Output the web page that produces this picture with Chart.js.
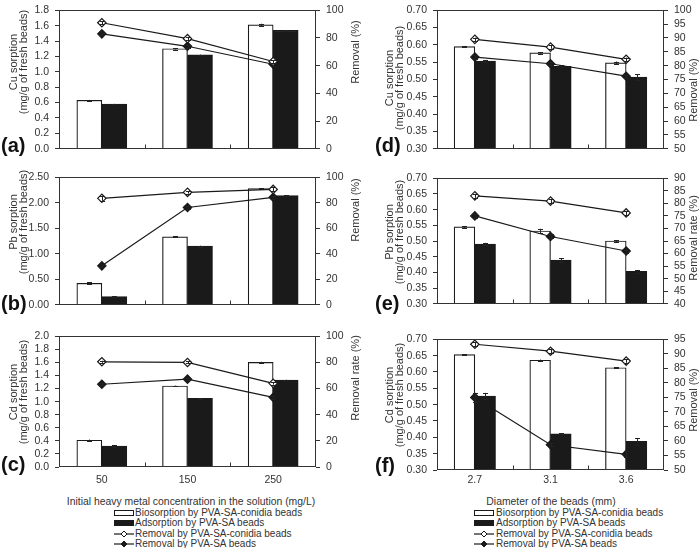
<!DOCTYPE html>
<html><head><meta charset="utf-8">
<script src="https://cdn.jsdelivr.net/npm/chart.js@4"></script>
<style>
body{margin:0;background:#fff;}
#wrap{position:relative;width:700px;height:548px;overflow:hidden;font-family:'Liberation Sans',Arial,sans-serif;color:#333;}
canvas{position:absolute;}
.t{position:absolute;white-space:nowrap;}
.rot{transform:translate(-50%,-50%) rotate(-90deg);text-align:center;font-size:11px;line-height:10px;}
.letter{font-weight:bold;font-size:20px;line-height:20px;color:#111;}
.xt{font-size:10.4px;line-height:10px;transform:translateX(-50%);}
.leg{font-size:10px;line-height:10px;}
.leg svg{position:absolute;left:0;top:0;}
.leg span{position:absolute;top:0;}
</style></head><body><div id="wrap"></div>
<script>
// ---- categories ----
const concCategories = ['50', '150', '250'];
const diamCategories = ['2.7', '3.1', '3.6'];

// ---- axis ranges [min, max, step] ----
const cuConcAxis = [0, 1.8, 0.2];
const pbConcAxis = [0, 2.5, 0.5];
const cdConcAxis = [0, 2.0, 0.2];
const removalConcAxis = [0, 100, 20];
const sorptionDiamAxis = [0.30, 0.70, 0.05];
const removalCuDiamAxis = [50, 100, 5];
const removalPbDiamAxis = [40, 90, 5];
const removalCdDiamAxis = [50, 95, 5];

// ---- (a) Cu vs concentration ----
const cuConcBio = [0.63, 1.30, 1.61];
const cuConcAds = [0.58, 1.22, 1.54];
const cuConcRemBio = [91, 79.5, 63];
const cuConcRemAds = [83, 74, 61];
const cuConcBioErr = [0.005, 0.01, 0.015];
const cuConcAdsErr = [0.003, 0.004, 0.004];
const cuConcRemBioErr = [1, 1.2, 1];
const cuConcRemAdsErr = [0.8, 1, 1];

// ---- (b) Pb vs concentration ----
const pbConcBio = [0.42, 1.33, 2.28];
const pbConcAds = [0.16, 1.15, 2.14];
const pbConcRemBio = [83.5, 88.2, 90.5];
const pbConcRemAds = [30.5, 76.3, 84.3];
const pbConcBioErr = [0.02, 0.01, 0.01];
const pbConcAdsErr = [0.005, 0.008, 0.005];
const pbConcRemBioErr = [2, 1, 1.5];
const pbConcRemAdsErr = [1, 1.2, 1];

// ---- (c) Cd vs concentration ----
const cdConcBio = [0.41, 1.24, 1.60];
const cdConcAds = [0.32, 1.05, 1.33];
const cdConcRemBio = [80.5, 80, 64];
const cdConcRemAds = [63.3, 67.2, 53.3];
const cdConcBioErr = [0.01, 0.005, 0.01];
const cdConcAdsErr = [0.01, 0.005, 0.005];
const cdConcRemBioErr = [0.8, 0.8, 1];
const cdConcRemAdsErr = [0.8, 0.8, 1];

// ---- (d) Cu vs diameter ----
const cuDiamBio = [0.595, 0.577, 0.548];
const cuDiamAds = [0.553, 0.538, 0.507];
const cuDiamRemBio = [89.5, 86.7, 82.3];
const cuDiamRemAds = [83.1, 80.7, 76.2];
const cuDiamBioErr = [0.002, 0.002, 0.004];
const cuDiamAdsErr = [0.002, 0.003, 0.008];
const cuDiamRemBioErr = [0.6, 0.6, 0.6];
const cuDiamRemAdsErr = [0.6, 0.6, 0.6];

// ---- (e) Pb vs diameter ----
const pbDiamBio = [0.545, 0.532, 0.500];
const pbDiamAds = [0.490, 0.439, 0.403];
const pbDiamRemBio = [83, 80.9, 76.2];
const pbDiamRemAds = [75, 66.8, 61];
const pbDiamBioErr = [0.003, 0.007, 0.003];
const pbDiamAdsErr = [0.004, 0.006, 0.004];
const pbDiamRemBioErr = [0.8, 0.8, 0.8];
const pbDiamRemAdsErr = [0.8, 0.8, 0.6];

// ---- (f) Cd vs diameter ----
const cdDiamBio = [0.653, 0.636, 0.613];
const cdDiamAds = [0.526, 0.411, 0.388];
const cdDiamRemBio = [93.3, 90.9, 87.5];
const cdDiamRemAds = [75, 58.7, 55.4];
const cdDiamBioErr = [0.001, 0.002, 0.002];
const cdDiamAdsErr = [0.01, 0.002, 0.01];
const cdDiamRemBioErr = [0.6, 0.6, 0.6];
const cdDiamRemAdsErr = [1.5, 0.5, 1];

// ---- text ----
const seriesNames = ['Biosorption by PVA-SA-conidia beads', 'Adsorption by PVA-SA beads', 'Removal by PVA-SA-conidia beads', 'Removal by PVA-SA beads'];
const xTitleConc = 'Initial heavy metal concentration in the solution (mg/L)';
const xTitleDiam = 'Diameter of the beads (mm)';

Chart.defaults.font.family = "'Liberation Sans', Arial, sans-serif";
Chart.defaults.font.size = 10.5;
Chart.defaults.color = '#333';

const wrap = document.getElementById('wrap');
const INK = '#1a1a1a';

const framePlugin = {
  id: 'frame',
  afterDraw(chart) {
    const {ctx, chartArea: a} = chart;
    ctx.save();
    ctx.strokeStyle = '#333';
    ctx.lineWidth = 1;
    const l = Math.round(a.left) + 0.5, r = Math.round(a.right) - 0.5;
    const t = Math.round(a.top) + 0.5, b = Math.round(a.bottom) - 0.5;
    ctx.strokeRect(l, t, r - l, b - t);
    const n = chart.data.labels.length;
    ctx.beginPath();
    for (let i = 1; i < n; i++) {
      const x = Math.round(a.left + i * (a.right - a.left) / n) + 0.5;
      ctx.moveTo(x, b); ctx.lineTo(x, b - 4);
    }
    ctx.stroke();
    ctx.restore();
  }
};

const errorPlugin = {
  id: 'errbars',
  afterDatasetDraw(chart, args) {
    const ds = chart.data.datasets[args.index];
    if (!ds.errors) return;
    const scale = chart.scales[ds.yAxisID];
    const ctx = chart.ctx;
    ctx.save();
    ctx.strokeStyle = ds.errColor || '#222';
    ctx.lineWidth = 1;
    ctx.beginPath();
    args.meta.data.forEach((el, j) => {
      const v = ds.data[j], e = ds.errors[j];
      const x = Math.round(el.x) + 0.5;
      const y1 = scale.getPixelForValue(v + e), y2 = scale.getPixelForValue(v - e);
      ctx.moveTo(x, y1); ctx.lineTo(x, y2);
      ctx.moveTo(x - 2.5, Math.round(y1) + 0.5); ctx.lineTo(x + 2.5, Math.round(y1) + 0.5);
      ctx.moveTo(x - 2.5, Math.round(y2) + 0.5); ctx.lineTo(x + 2.5, Math.round(y2) + 0.5);
    });
    ctx.stroke();
    ctx.restore();
  }
};

function panel(p) {
  const col = p.col === 0 ? {left: 0, width: 352, yw: 59, y1w: 36, bw: 25}
                          : {left: 365, width: 335, yw: 72, y1w: 36, bw: 20.7};
  const showLabels = !!p.labels;
  const padTop = 8, xh = showLabels ? 24 : 12;
  const cv = document.createElement('canvas');
  cv.width = col.width;
  cv.height = padTop + (p.bottom - p.top) + xh;
  cv.style.left = col.left + 'px';
  cv.style.top = (p.top - padTop) + 'px';
  wrap.appendChild(cv);
  const lineDs = (data, fill, errs) => ({
    type: 'line', data, yAxisID: 'y1', order: 0, errors: errs,
    borderColor: INK, borderWidth: 1.2, fill: false, tension: 0,
    pointStyle: 'rectRot', pointRadius: 4.2, pointBackgroundColor: fill,
    pointBorderColor: INK, pointBorderWidth: 1.2
  });
  const barDs = (data, fill, errs) => ({
    type: 'bar', data, yAxisID: 'y', order: 1, errors: errs,
    backgroundColor: fill, borderColor: INK, borderWidth: 1.2, barThickness: col.bw
  });
  const yAxis = (rng, dec, pos, w) => ({
    position: pos, min: rng[0], max: rng[1],
    ticks: {stepSize: rng[2], autoSkip: false, padding: 6, callback: v => Number(v).toFixed(dec)},
    grid: {drawOnChartArea: false, drawTicks: true, tickLength: 4, color: '#333'},
    border: {display: false},
    afterFit: s => { s.width = w; }
  });
  new Chart(cv, {
    type: 'bar',
    data: {
      labels: p.cats,
      datasets: [
        lineDs(p.remBio, '#fff', p.remBioErr),
        lineDs(p.remAds, INK, p.remAdsErr),
        barDs(p.bio, '#fff', p.bioErr),
        barDs(p.ads, INK, p.adsErr)
      ]
    },
    options: {
      responsive: false, animation: false, events: [],
      layout: {autoPadding: false, padding: {top: padTop, left: 0, right: 0, bottom: 0}},
      plugins: {legend: {display: false}, tooltip: {enabled: false}},
      scales: {
        x: {
          offset: true,
          grid: {display: false, drawTicks: false},
          border: {display: false},
          ticks: {display: showLabels, padding: p.xpad || 0, autoSkip: false, maxRotation: 0},
          afterFit: s => { s.height = xh; }
        },
        y: yAxis(p.yAxis, p.dec, 'left', col.yw),
        y1: yAxis(p.y1Axis, 0, 'right', col.y1w)
      }
    },
    plugins: [framePlugin, errorPlugin]
  });
}

panel({col: 0, top: 6, bottom: 149, cats: concCategories, yAxis: cuConcAxis, y1Axis: removalConcAxis, dec: 1,
  bio: cuConcBio, ads: cuConcAds, remBio: cuConcRemBio, remAds: cuConcRemAds,
  bioErr: cuConcBioErr, adsErr: cuConcAdsErr, remBioErr: cuConcRemBioErr, remAdsErr: cuConcRemAdsErr});
panel({col: 0, top: 173, bottom: 305, cats: concCategories, yAxis: pbConcAxis, y1Axis: removalConcAxis, dec: 2,
  bio: pbConcBio, ads: pbConcAds, remBio: pbConcRemBio, remAds: pbConcRemAds,
  bioErr: pbConcBioErr, adsErr: pbConcAdsErr, remBioErr: pbConcRemBioErr, remAdsErr: pbConcRemAdsErr});
panel({col: 0, top: 332, bottom: 467, cats: concCategories, yAxis: cdConcAxis, y1Axis: removalConcAxis, dec: 1, labels: true, xpad: 7,
  bio: cdConcBio, ads: cdConcAds, remBio: cdConcRemBio, remAds: cdConcRemAds,
  bioErr: cdConcBioErr, adsErr: cdConcAdsErr, remBioErr: cdConcRemBioErr, remAdsErr: cdConcRemAdsErr});
panel({col: 1, top: 6, bottom: 149, cats: diamCategories, yAxis: sorptionDiamAxis, y1Axis: removalCuDiamAxis, dec: 2,
  bio: cuDiamBio, ads: cuDiamAds, remBio: cuDiamRemBio, remAds: cuDiamRemAds,
  bioErr: cuDiamBioErr, adsErr: cuDiamAdsErr, remBioErr: cuDiamRemBioErr, remAdsErr: cuDiamRemAdsErr});
panel({col: 1, top: 174, bottom: 304, cats: diamCategories, yAxis: sorptionDiamAxis, y1Axis: removalPbDiamAxis, dec: 2,
  bio: pbDiamBio, ads: pbDiamAds, remBio: pbDiamRemBio, remAds: pbDiamRemAds,
  bioErr: pbDiamBioErr, adsErr: pbDiamAdsErr, remBioErr: pbDiamRemBioErr, remAdsErr: pbDiamRemAdsErr});
panel({col: 1, top: 335, bottom: 470, cats: diamCategories, yAxis: sorptionDiamAxis, y1Axis: removalCdDiamAxis, dec: 2, labels: true, xpad: 4,
  bio: cdDiamBio, ads: cdDiamAds, remBio: cdDiamRemBio, remAds: cdDiamRemAds,
  bioErr: cdDiamBioErr, adsErr: cdDiamAdsErr, remBioErr: cdDiamRemBioErr, remAdsErr: cdDiamRemAdsErr});

// ---- HTML text ----
function addText(cls, html, x, y) {
  const d = document.createElement('div');
  d.className = 't ' + cls;
  d.innerHTML = html;
  d.style.left = x + 'px';
  d.style.top = y + 'px';
  wrap.appendChild(d);
  return d;
}
// panel letters
[['(a)', 1, 135], ['(b)', 1, 293], ['(c)', 1, 454], ['(d)', 375, 135], ['(e)', 375, 293], ['(f)', 375, 455]]
  .forEach(([s, x, y]) => addText('letter', s, x, y));
// left axis titles
[['Cu', 17.5, 62], ['Pb', 17.5, 222], ['Cd', 17.5, 392], ['Cu', 393.5, 78], ['Pb', 393.5, 232], ['Cd', 393.5, 395]]
  .forEach(([m, x, y]) => addText('rot', m + ' sorption<br>(mg/g of fresh beads)', x, y));
// right axis titles
[['Removal (%)', 355, 52], ['Removal (%)', 355, 210], ['Removal rate (%)', 355, 378],
 ['Removal (%)', 693, 90], ['Removal rate (%)', 693, 238], ['Removal (%)', 693, 400]]
  .forEach(([s, x, y]) => addText('rot', s, x, y));
// x titles
addText('xt', xTitleConc, 191, 497);
addText('xt', xTitleDiam, 551, 497);
// legends
const sw = [
  '<svg width="22" height="10"><rect x="1.5" y="2.5" width="19" height="5" fill="#fff" stroke="#1a1a1a" stroke-width="1"/></svg>',
  '<svg width="22" height="10"><rect x="1" y="2" width="20" height="6" fill="#1a1a1a"/></svg>',
  '<svg width="22" height="10"><line x1="1" y1="5" x2="21" y2="5" stroke="#1a1a1a" stroke-width="1.2"/><path d="M11 2 L14 5 L11 8 L8 5 Z" fill="#fff" stroke="#1a1a1a" stroke-width="1"/></svg>',
  '<svg width="22" height="10"><line x1="1" y1="5" x2="21" y2="5" stroke="#1a1a1a" stroke-width="1.2"/><path d="M11 2 L14 5 L11 8 L8 5 Z" fill="#1a1a1a" stroke="#1a1a1a" stroke-width="1"/></svg>'
];
const legYs = [507.5, 518, 528.5, 539];
[[113, 135], [473, 496]].forEach(([sx, tx]) => {
  seriesNames.forEach((name, i) => {
    const d = document.createElement('div');
    d.className = 't leg';
    d.style.left = sx + 'px';
    d.style.top = legYs[i] + 'px';
    d.innerHTML = sw[i] + '<span style="left:' + (tx - sx) + 'px">' + name + '</span>';
    wrap.appendChild(d);
  });
});
</script>
</body></html>
